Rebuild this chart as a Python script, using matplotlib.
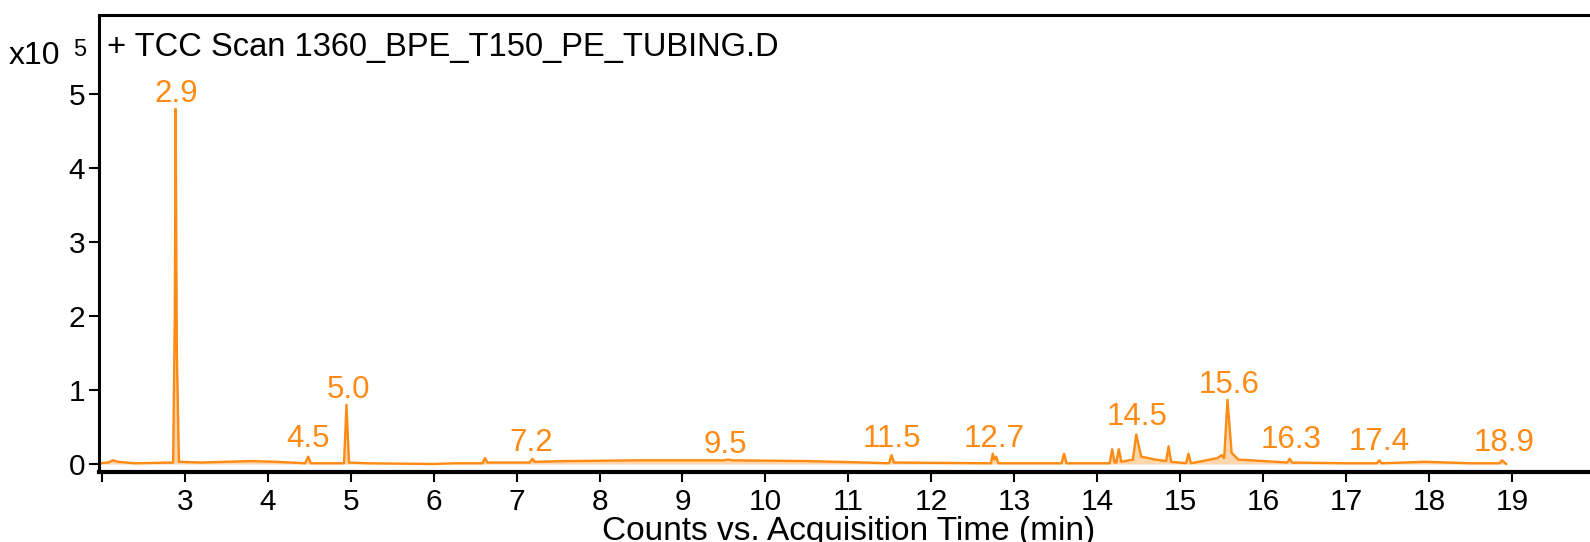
import numpy as np
import matplotlib.pyplot as plt

plt.rcParams['font.family'] = ['Liberation Sans', 'DejaVu Sans']

ORANGE = '#ff8a14'

# chromatogram trace (time in min, counts in x10^5)
time = [1.98, 2.08, 2.13, 2.20, 2.40, 2.86, 2.88, 2.89, 2.905, 2.93, 3.2, 3.5,
        3.8, 4.1, 4.45, 4.49, 4.52, 4.92, 4.95, 4.98, 5.2, 6.0, 6.25, 6.59,
        6.62, 6.65, 7.16, 7.19, 7.22, 7.6, 8.5, 9.5, 9.55, 9.6, 10.5, 11.2,
        11.49, 11.52, 11.55, 12.72, 12.74, 12.76, 12.78, 12.81, 13.57, 13.6,
        13.63, 14.15, 14.18, 14.21, 14.23, 14.26, 14.29, 14.43, 14.47, 14.53,
        14.7, 14.83, 14.86, 14.89, 15.07, 15.1, 15.13, 15.45, 15.5, 15.53,
        15.57, 15.62, 15.7, 16.0, 16.29, 16.32, 16.35, 17.0, 17.37, 17.4,
        17.43, 17.95, 18.5, 18.85, 18.88, 18.93]
counts = [0.01, 0.02, 0.05, 0.03, 0.01, 0.02, 2.0, 4.80, 1.5, 0.03, 0.02, 0.03,
          0.04, 0.03, 0.01, 0.10, 0.01, 0.01, 0.80, 0.02, 0.01, 0.00, 0.01, 0.01,
          0.08, 0.02, 0.02, 0.07, 0.03, 0.04, 0.05, 0.05, 0.06, 0.05, 0.04, 0.02,
          0.01, 0.12, 0.02, 0.01, 0.14, 0.06, 0.10, 0.01, 0.01, 0.14,
          0.01, 0.01, 0.20, 0.02, 0.02, 0.20, 0.03, 0.06, 0.40, 0.10,
          0.06, 0.04, 0.24, 0.03, 0.01, 0.14, 0.01, 0.08, 0.12, 0.08,
          0.87, 0.15, 0.06, 0.04, 0.02, 0.07, 0.02, 0.01, 0.01, 0.05,
          0.01, 0.03, 0.01, 0.01, 0.05, 0.00]

# peak labels
label_x = [2.90, 4.48, 4.97, 7.18, 9.52, 11.53, 12.76, 14.48, 15.59, 16.34, 17.40, 18.91]
label_y = [4.90, 0.23, 0.89, 0.18, 0.15, 0.23, 0.23, 0.53, 0.96, 0.21, 0.19, 0.17]
label_txt = ['2.9', '4.5', '5.0', '7.2', '9.5', '11.5', '12.7', '14.5', '15.6', '16.3', '17.4', '18.9']

fig = plt.figure(figsize=(15.9, 5.42), dpi=100)
ax = fig.add_axes([99.3 / 1590, 1 - 472.3 / 542, 1 - 99.3 / 1590, (472.3 - 15) / 542])

ax.fill_between(time, 0, counts, color=ORANGE, alpha=0.35, lw=0)
ax.plot(time, counts, color=ORANGE, lw=1.7)

for x, y, s in zip(label_x, label_y, label_txt):
    ax.text(x, y, s, color=ORANGE, fontsize=22.5, ha='center', va='baseline')

ax.set_xlim(1.97, 19.94)
ax.set_ylim(-0.112, 6.07)

ax.set_xticks(range(2, 20))
ax.set_xticklabels([''] + [str(i) for i in range(3, 20)])
ax.set_yticks(range(0, 6))
ax.tick_params(axis='both', labelsize=21.5, width=1.5, length=7.2, color='black')
ax.tick_params(axis='x', pad=4)
ax.tick_params(axis='y', pad=3)

ax.spines['right'].set_visible(False)
ax.spines['left'].set_linewidth(2.2)
ax.spines['top'].set_linewidth(2.2)
ax.spines['bottom'].set_linewidth(3)

ax.text(0.005, 0.93, '+ TCC Scan 1360_BPE_T150_PE_TUBING.D', transform=ax.transAxes,
        fontsize=23.5, va='center', ha='left')

fig.text(9 / 1590, 1 - 64 / 542, 'x10', fontsize=23, ha='left', va='baseline')
fig.text(73 / 1590, 1 - 56 / 542, '5', fontsize=17, ha='left', va='baseline')
fig.text(849 / 1590, 0.003, 'Counts vs. Acquisition Time (min)', fontsize=24,
         ha='center', va='baseline')

fig.savefig('out.png', dpi=100)
